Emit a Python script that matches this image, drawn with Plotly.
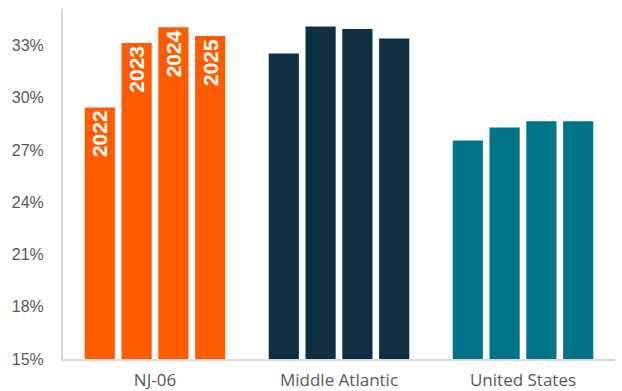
import plotly.graph_objects as go

categories = ["NJ-06", "Middle Atlantic", "United States"]
years = ["2022", "2023", "2024", "2025"]
values_2022 = [29.45, 32.55, 27.55]
values_2023 = [33.15, 34.1, 28.3]
values_2024 = [34.05, 33.95, 28.65]
values_2025 = [33.55, 33.4, 28.65]
series = [values_2022, values_2023, values_2024, values_2025]
colors = ["#FF5C00", "#0E3042", "#007588"]
y_ticks = [15, 18, 21, 24, 27, 30, 33]

fig = go.Figure()
for yr, vals in zip(years, series):
    fig.add_trace(go.Bar(
        x=categories, y=vals, name=yr,
        marker=dict(color=colors, line=dict(width=0)),
        text=[yr, "", ""],
        textposition="inside",
        insidetextanchor="end",
        textangle=-90,
        constraintext="none",
        insidetextfont=dict(color="white", size=21, family="Liberation Sans", weight="bold"),
        hoverinfo="skip",
    ))

fig.update_layout(
    width=622, height=391,
    margin=dict(l=63, r=7, t=9, b=32),
    paper_bgcolor="white", plot_bgcolor="white",
    barmode="group", bargap=0.2, bargroupgap=0.18,
    showlegend=False,
    xaxis=dict(
        showline=True, linecolor="#D9D9D9", linewidth=2,
        showgrid=False, ticks="",
        automargin=False,
        ticklabelstandoff=5,
        tickfont=dict(family="Open Sans", size=17, color="#595959"),
    ),
    yaxis=dict(
        range=[15, 35.1],
        tickvals=y_ticks,
        ticktext=[f"{v}%" for v in y_ticks],
        showline=True, linecolor="#D9D9D9", linewidth=2,
        showgrid=False, zeroline=False, ticks="",
        automargin=False,
        ticklabelstandoff=14,
        tickfont=dict(family="Liberation Sans", size=16, color="#595959"),
    ),
)

fig.write_html("out.html")
